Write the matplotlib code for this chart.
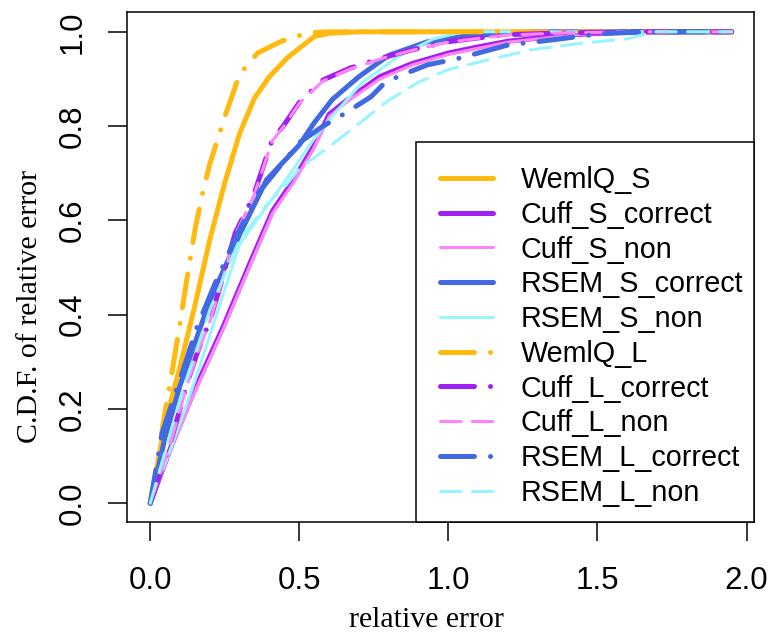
import matplotlib
matplotlib.use("Agg")
import matplotlib.pyplot as plt
from matplotlib.patches import Rectangle

# relative error (x) and C.D.F. (y), one pair per method
wemlq_s_x = [0, 0.05, 0.1, 0.15, 0.2, 0.25, 0.3, 0.35, 0.4, 0.46, 0.5, 0.55, 0.6, 0.7, 1.0, 1.95]
wemlq_s_y = [0, 0.17, 0.29, 0.42, 0.56, 0.68, 0.785, 0.86, 0.905, 0.945, 0.965, 0.99, 0.997, 1.0, 1.0, 1.0]

cuff_s_x = [0, 0.07, 0.145, 0.245, 0.335, 0.41, 0.48, 0.546, 0.6, 0.66, 0.77, 0.88, 1.0, 1.1, 1.2, 1.4, 1.6, 1.95]
cuff_s_correct_y = [0, 0.12, 0.235, 0.375, 0.51, 0.62, 0.685, 0.755, 0.825, 0.855, 0.905, 0.933, 0.955, 0.968, 0.98, 0.993, 1.0, 1.0]
cuff_s_non_y = [0, 0.115, 0.23, 0.37, 0.505, 0.615, 0.68, 0.75, 0.82, 0.852, 0.9, 0.93, 0.952, 0.965, 0.978, 0.992, 1.0, 1.0]

rsem_s_correct_x = [0, 0.05, 0.1, 0.2, 0.3, 0.39, 0.5, 0.55, 0.61, 0.7, 0.8, 0.93, 1.06, 1.3, 1.95]
rsem_s_correct_y = [0, 0.14, 0.25, 0.43, 0.57, 0.686, 0.76, 0.807, 0.856, 0.905, 0.95, 0.979, 0.991, 1.0, 1.0]

rsem_s_non_x = [0, 0.077, 0.15, 0.3, 0.46, 0.546, 0.6, 0.71, 0.83, 0.95, 1.05, 1.95]
rsem_s_non_y = [0, 0.13, 0.26, 0.55, 0.69, 0.77, 0.813, 0.892, 0.947, 0.985, 1.0, 1.0]

wemlq_l_x = [0, 0.02, 0.045, 0.073, 0.1, 0.124, 0.151, 0.18, 0.2, 0.25, 0.3, 0.36, 0.44, 0.53, 0.6, 1.95]
wemlq_l_y = [0, 0.07, 0.176, 0.278, 0.382, 0.48, 0.584, 0.67, 0.72, 0.82, 0.91, 0.955, 0.98, 0.998, 1.0, 1.0]

cuff_l_x = [0, 0.067, 0.127, 0.161, 0.201, 0.234, 0.285, 0.345, 0.409, 0.446, 0.502, 0.58, 0.67, 0.78, 0.88, 1.0, 1.1, 1.2, 1.4, 1.65, 1.95]
cuff_l_correct_y = [0, 0.127, 0.261, 0.325, 0.389, 0.459, 0.573, 0.65, 0.771, 0.8, 0.852, 0.898, 0.923, 0.945, 0.962, 0.979, 0.987, 0.994, 0.998, 1.0, 1.0]
cuff_l_non_y = [0, 0.125, 0.258, 0.322, 0.387, 0.456, 0.57, 0.648, 0.768, 0.798, 0.85, 0.896, 0.921, 0.944, 0.961, 0.978, 0.986, 0.993, 0.998, 1.0, 1.0]

rsem_l_correct_x = [0, 0.04, 0.067, 0.11, 0.157, 0.218, 0.291, 0.362, 0.5, 0.58, 0.64, 0.74, 0.79, 0.87, 0.93, 1.03, 1.2, 1.35, 1.51, 1.67, 1.95]
rsem_l_correct_y = [0, 0.149, 0.2, 0.282, 0.374, 0.467, 0.569, 0.658, 0.765, 0.8, 0.822, 0.862, 0.894, 0.915, 0.93, 0.943, 0.972, 0.983, 0.996, 1.0, 1.0]

rsem_l_non_x = [0, 0.1, 0.2, 0.3, 0.4, 0.45, 0.5, 0.6, 0.7, 0.8, 0.9, 1.0, 1.13, 1.28, 1.45, 1.6, 1.69, 1.95]
rsem_l_non_y = [0, 0.22, 0.41, 0.56, 0.64, 0.67, 0.71, 0.756, 0.805, 0.855, 0.893, 0.92, 0.94, 0.962, 0.976, 0.985, 1.0, 1.0]

orange = "#FFB90F"
purple = "#A020F0"
pink = "#FF83FA"
blue = "#4169E1"
cyan = "#98F5FF"

thick = 3.6
thin = 2.2
dotdash = (0, (6.8, 3.2, 0.01, 3.2))
dashed = (0, (6.7, 3.7))

series = [
    ("WemlQ_S", wemlq_s_x, wemlq_s_y, orange, thick, "-"),
    ("Cuff_S_correct", cuff_s_x, cuff_s_correct_y, purple, thick, "-"),
    ("Cuff_S_non", cuff_s_x, cuff_s_non_y, pink, thin, "-"),
    ("RSEM_S_correct", rsem_s_correct_x, rsem_s_correct_y, blue, thick, "-"),
    ("RSEM_S_non", rsem_s_non_x, rsem_s_non_y, cyan, thin, "-"),
    ("WemlQ_L", wemlq_l_x, wemlq_l_y, orange, thick, dotdash),
    ("Cuff_L_correct", cuff_l_x, cuff_l_correct_y, purple, thick, dotdash),
    ("Cuff_L_non", cuff_l_x, cuff_l_non_y, pink, thin, dashed),
    ("RSEM_L_correct", rsem_l_correct_x, rsem_l_correct_y, blue, thick, dotdash),
    ("RSEM_L_non", rsem_l_non_x, rsem_l_non_y, cyan, thin, dashed),
]

plt.rcParams["font.family"] = ["Liberation Sans", "DejaVu Sans"]

W, H = 776, 633
fig = plt.figure(figsize=(W / 100, H / 100), dpi=100)
ax = fig.add_axes([127 / W, 1 - 522 / H, 627 / W, 510 / H])

for label, x, y, color, lw, ls in series:
    ax.plot(x, y, color=color, lw=lw, linestyle=ls, label=label,
            solid_capstyle="round", dash_capstyle="round", solid_joinstyle="round")

ax.set_xlim(-0.078, 2.025)
ax.set_ylim(-0.04, 1.042)
ax.set_xticks([0.0, 0.5, 1.0, 1.5, 2.0])
ax.set_xticklabels(["0.0", "0.5", "1.0", "1.5", "2.0"])
ax.set_yticks([0.0, 0.2, 0.4, 0.6, 0.8, 1.0])
ax.set_yticklabels(["0.0", "0.2", "0.4", "0.6", "0.8", "1.0"], rotation=90, va="center")
ax.tick_params(axis="both", labelsize=22.5, length=14, width=1.1, direction="out")
ax.tick_params(axis="x", pad=18)
ax.tick_params(axis="y", pad=14)
for sp in ax.spines.values():
    sp.set_linewidth(1.1)

serif = ["Liberation Serif", "DejaVu Serif"]
ax.set_xlabel("relative error", family=serif, fontsize=21.5)
ax.xaxis.set_label_coords(0.478, -(620 - 522) / 510)
ax.xaxis.label.set_va("center")
ax.set_ylabel("C.D.F. of relative error", family=serif, fontsize=21.5)
ax.yaxis.set_label_coords((30 - 127) / 627, (522 - 306) / 510)
ax.yaxis.label.set_va("center")

# legend box drawn separately so the padding matches the R legend
box = Rectangle((416 / W, 1 - 522 / H), (754 - 416) / W, (522 - 142) / H,
                transform=fig.transFigure, facecolor="white", edgecolor="black",
                lw=1.1, zorder=4)
fig.add_artist(box)
leg = fig.legend(*ax.get_legend_handles_labels(), loc="upper left",
                 bbox_to_anchor=(440 / W, 1 - 166 / H), bbox_transform=fig.transFigure,
                 fontsize=20.7, frameon=False, borderaxespad=0, borderpad=0,
                 handlelength=1.85, handletextpad=0.95, labelspacing=0.235)
leg.set_zorder(5)

fig.savefig("out.png", dpi=100)
